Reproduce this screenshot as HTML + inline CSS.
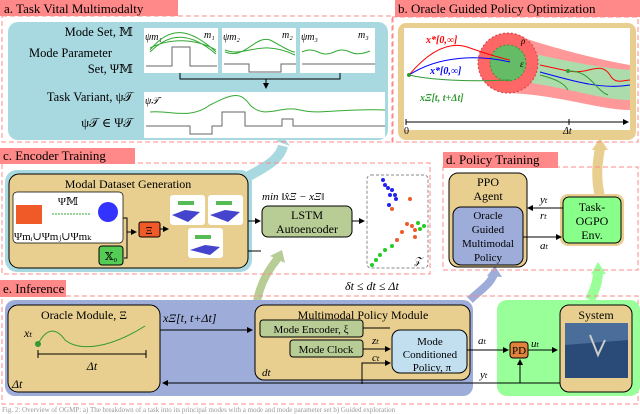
<!DOCTYPE html>
<html><head><meta charset="utf-8"><style>
body{margin:0;background:#fff}
svg{display:block;font-family:"Liberation Serif","DejaVu Serif",serif}
</style></head><body>
<svg width="640" height="414" viewBox="0 0 640 414" xmlns="http://www.w3.org/2000/svg" font-family="Liberation Serif, DejaVu Serif, serif">
<defs>
<marker id="ar" markerWidth="6" markerHeight="6" refX="5" refY="3" orient="auto"><path d="M0,0 L6,3 L0,6 z" fill="#000"/></marker>
</defs>
<path d="M245,178 C270,165 280,158 283,146" stroke="#a8d8e0" stroke-width="10" fill="none"/>
<path d="M276,141 L284,138 L290,146 z" fill="#a8d8e0"/>
<path d="M255,325 C255,300 260,280 278,258" stroke="#b8cc95" stroke-width="8" fill="none"/>
<path d="M270,256 L282,250 L285,263 z" fill="#b8cc95"/>
<path d="M470,300 C480,290 490,285 494,274" stroke="#9dacd9" stroke-width="8" fill="none"/>
<path d="M487,276 L495,266 L502,277 z" fill="#9dacd9"/>
<path d="M590,300 C595,290 598,280 598,272" stroke="#9f9" stroke-width="10" fill="none"/>
<path d="M591,274 L598,262 L606,274 z" fill="#9f9"/>
<path d="M600,197 C595,175 598,160 600,148" stroke="#e8cf8f" stroke-width="10" fill="none"/>
<path d="M592,150 L600,138 L608,150 z" fill="#e8cf8f"/>

<rect x="2" y="16" width="391" height="126" fill="none" stroke="#f88" stroke-dasharray="5,3"/>
<rect x="0" y="0" width="178" height="16" fill="#f88"/>
<text x="4" y="13" font-size="13">a. Task Vital Multimodalty</text>
<rect x="8" y="22" width="380" height="118" rx="10" fill="#a8d8e0"/>
<g font-size="12.5" text-anchor="end">
<text x="133" y="36">Mode Set, 𝕄</text>
<text x="112" y="57">Mode Parameter</text>
<text x="133" y="73">Set, Ψ𝕄</text>
<text x="133" y="101">Task Variant, ψ𝒯</text>
<text x="133" y="127">ψ𝒯 ∈ Ψ𝒯</text>
</g>
<g font-size="10" font-style="italic">
<rect x="144" y="28" width="74" height="45" fill="#fff"/><text x="145" y="40">ψm₁</text><text x="204" y="38">m₁</text>
<path d="M146,66 H172 V47 H190 V66 H217" stroke="#666" fill="none"/>
<path d="M150,50 C170,25 190,28 216,52 M150,52 C170,32 190,32 216,54 M150,48 C170,38 195,38 216,50" stroke="#3a3" fill="none"/>
<rect x="222" y="28" width="74" height="45" fill="#fff"/><text x="223" y="40">ψm₂</text><text x="282" y="38">m₂</text>
<path d="M224,64 H249 V72 H281 V64 H296" stroke="#666" fill="none"/>
<path d="M225,52 C245,60 255,35 270,40 C280,45 290,52 295,52 M225,50 C245,58 260,38 295,55" stroke="#3a3" fill="none"/>
<rect x="300" y="28" width="75" height="45" fill="#fff"/><text x="301" y="40">ψm₃</text><text x="358" y="38">m₃</text>
<path d="M302,52 Q310,48 318,52 T334,52 T350,52 T370,51" stroke="#3a3" fill="none"/>
<path d="M302,64 H375" stroke="#666" fill="none"/>
<path d="M180,73 V79 H340 V73" stroke="#000" fill="none"/>
<path d="M266,79 V88" stroke="#000" marker-end="url(#ar)"/>
<rect x="144" y="92" width="241" height="46" fill="#fff"/><text x="145" y="104">ψ𝒯</text>
<path d="M146,126 H190 V134 H212 V126 H222 V112 H245 V126 H272 V126 H282 V119 H293 V126 H385" stroke="#666" fill="none"/>
<path d="M150,112 C170,110 190,120 210,105 C230,95 240,90 250,105 C265,120 280,105 300,110 C320,115 340,108 385,110" stroke="#3a3" fill="none"/>
</g>

<rect x="392" y="17" width="246" height="125" fill="none" stroke="#f88" stroke-dasharray="5,3"/>
<rect x="395" y="0" width="245" height="17" fill="#f88"/>
<text x="398" y="13" font-size="13">b. Oracle Guided Policy Optimization</text>
<rect x="398" y="23" width="238" height="117" rx="8" fill="#e8cf8f"/>
<rect x="404" y="28" width="226" height="102" fill="#fff"/>
<path d="M508,33 C560,50 600,60 630,65 V110 C600,110 560,95 508,93 z" fill="#f99"/>
<path d="M508,48 C560,60 600,68 630,70 V100 C600,100 560,85 508,80 z" fill="#acdcac"/>
<circle cx="508" cy="63" r="30" fill="#f66" stroke="#c44" stroke-dasharray="2,2"/>
<circle cx="508" cy="63" r="18" fill="#6b6" stroke="#393" stroke-dasharray="2,2"/>
<path d="M409,75 C430,50 450,40 470,48 C490,55 500,58 510,60" stroke="red" fill="none"/>
<path d="M409,75 C440,55 480,55 510,62" stroke="blue" fill="none"/>
<path d="M409,75 C430,80 470,82 510,80" stroke="#393" fill="none"/>
<path d="M540,65 L568,71 C590,75 600,60 610,75 C615,85 625,80 630,80" stroke="red" fill="none"/>
<path d="M540,72 C570,80 600,90 630,85" stroke="blue" fill="none"/>
<path d="M568,71 C590,70 595,90 608,95 M540,75 C560,80 565,85 568,90" stroke="#393" fill="none"/>
<circle cx="409" cy="75" r="2" fill="#393"/><circle cx="568" cy="71" r="2" fill="#393"/>
<g font-size="10" font-weight="bold" font-style="italic">
<text x="426" y="43" fill="red">x*[0,∞]</text>
<text x="430" y="74" fill="blue">x*[0,∞]</text>
<text x="420" y="101" fill="#393">xΞ[t, t+Δt]</text></g>
<text x="520" y="67" font-size="9" font-style="italic">ε</text><text x="521" y="44" font-size="9" font-style="italic">ρ</text>
<path d="M406,122 H628" stroke="#000" marker-end="url(#ar)"/>
<path d="M406,119 V125 M569,119 V125" stroke="#000"/>
<text x="404" y="134" font-size="10">0</text><text x="563" y="134" font-size="10" font-style="italic">Δt</text>

<rect x="2" y="163" width="428" height="111" fill="none" stroke="#f88" stroke-dasharray="5,3"/>
<rect x="0" y="148" width="135" height="16" fill="#f88"/>
<text x="3" y="160" font-size="13">c. Encoder Training</text>
<rect x="5" y="170" width="247" height="102" rx="12" fill="#a8d8e0"/>
<rect x="9" y="174" width="239" height="94" rx="10" fill="#e8cf8f" stroke="#000"/>
<text x="128" y="188" font-size="12" text-anchor="middle">Modal Dataset Generation</text>
<rect x="13" y="192" width="110" height="51" rx="4" fill="#fff" stroke="#000" stroke-width=".7"/>
<rect x="16" y="205" width="26" height="19" fill="#f05a28"/>
<line x1="52" y1="214" x2="90" y2="214" stroke="#3a3" stroke-dasharray="2,1"/>
<circle cx="108" cy="212" r="10" fill="#33f"/>
<text x="68" y="205" font-size="11" text-anchor="middle">Ψ𝕄</text>
<text x="14" y="240" font-size="11">Ψmᵢ∪Ψmⱼ∪Ψmₖ</text>
<path d="M123,218 H127 V232 M124,258 H127 V232 H136" stroke="#000" fill="none" marker-end="url(#ar)"/>
<rect x="99" y="246" width="24" height="19" rx="3" fill="#5c5" stroke="#000"/><text x="111" y="260" font-size="11" text-anchor="middle">𝕏₀</text>
<rect x="139" y="222" width="21" height="15" rx="2" fill="#f05a28" stroke="#000"/><text x="149" y="234" font-size="11" text-anchor="middle">Ξ</text>
<path d="M160,229 H168" stroke="#000" marker-end="url(#ar)"/>
<rect x="170" y="195" width="35" height="30" rx="3" fill="#fff"/><rect x="208" y="195" width="35" height="30" rx="3" fill="#fff"/><rect x="188" y="228" width="35" height="30" rx="3" fill="#fff"/>
<path d="M172,215 L185,210 L200,212 L188,222 z M210,215 L225,210 L240,212 L228,222 z M190,250 L205,245 L220,247 L210,255 z" fill="#44c"/>
<path d="M178,203 h16 M216,203 h16 M195,237 h16" stroke="#5b5" stroke-width="4"/>
<path d="M248,248 V251 H261" stroke="#000" fill="none"/>
<path d="M248,221 H260" stroke="#000" marker-end="url(#ar)"/>
<text x="262" y="200" font-size="11" font-style="italic">min ‖x̂Ξ − xΞ‖</text>
<rect x="262" y="206" width="90" height="31" rx="6" fill="#b8cc95" stroke="#000"/>
<text x="307" y="219" font-size="12" text-anchor="middle">LSTM</text><text x="307" y="233" font-size="12" text-anchor="middle">Autoencoder</text>
<path d="M352,221 H364" stroke="#000" marker-end="url(#ar)"/>
<rect x="367" y="175" width="61" height="93" rx="4" fill="#fff" stroke="#888" stroke-dasharray="3,2"/>
<g fill="#22e"><circle cx="383" cy="180" r="2"/><circle cx="385" cy="185" r="2"/><circle cx="388" cy="188" r="2"/><circle cx="392" cy="190" r="2"/><circle cx="395" cy="195" r="2"/><circle cx="390" cy="195" r="2"/><circle cx="396" cy="199" r="2"/><circle cx="389" cy="205" r="2"/></g>
<g fill="#f05a28"><circle cx="410" cy="199" r="2"/><circle cx="392" cy="209" r="2"/><circle cx="407" cy="224" r="2"/><circle cx="412" cy="226" r="2"/><circle cx="415" cy="230" r="2"/><circle cx="415" cy="237" r="2"/><circle cx="402" cy="232" r="2"/><circle cx="397" cy="240" r="2"/></g>
<g fill="#2c2"><circle cx="418" cy="223" r="2"/><circle cx="424" cy="226" r="2"/><circle cx="420" cy="229" r="2"/><circle cx="392" cy="246" r="2"/><circle cx="385" cy="250" r="2"/><circle cx="380" cy="255" r="2"/><circle cx="376" cy="260" r="2"/><circle cx="372" cy="265" r="2"/></g>
<text x="414" y="264" font-size="10" font-style="italic">𝒵</text>

<rect x="443" y="167" width="195" height="103" fill="none" stroke="#f88" stroke-dasharray="5,3"/>
<rect x="443" y="152" width="115" height="16" fill="#f88"/>
<text x="446" y="164" font-size="13">d. Policy Training</text>
<rect x="449" y="173" width="78" height="94" rx="9" fill="#e8cf8f" stroke="#000"/>
<text x="488" y="186" font-size="12" text-anchor="middle">PPO</text><text x="488" y="200" font-size="12" text-anchor="middle">Agent</text>
<rect x="453" y="207" width="70" height="58" rx="8" fill="#9dacd9" stroke="#000"/>
<g font-size="11" text-anchor="middle"><text x="488" y="219">Oracle</text><text x="488" y="233">Guided</text><text x="488" y="247">Multimodal</text><text x="488" y="261">Policy</text></g>
<rect x="560" y="194" width="64" height="52" rx="8" fill="#e8cf8f"/>
<rect x="563" y="197" width="58" height="46" rx="6" fill="#8f8" stroke="#000"/>
<g font-size="12" text-anchor="middle"><text x="592" y="211">Task-</text><text x="592" y="225">OGPO</text><text x="592" y="239">Env.</text></g>
<path d="M563,208 H528" stroke="#000" marker-end="url(#ar)"/>
<path d="M523,237 H561" stroke="#000" marker-end="url(#ar)"/>
<g font-size="11" font-style="italic"><text x="540" y="203">yₜ</text><text x="540" y="219">rₜ</text><text x="540" y="249">aₜ</text></g>

<text x="345" y="290" font-size="12" font-style="italic">δt ≤ dt ≤ Δt</text>
<rect x="2" y="296" width="636" height="108" fill="none" stroke="#f88" stroke-dasharray="5,3"/>
<rect x="0" y="280" width="66" height="17" fill="#f88"/>
<text x="3" y="293" font-size="13">e. Inference</text>
<rect x="5" y="300" width="468" height="96" rx="10" fill="#9dacd9"/>
<rect x="497" y="300" width="143" height="96" rx="10" fill="#9f9"/>
<rect x="8" y="305" width="152" height="87" rx="10" fill="#e8cf8f" stroke="#000"/>
<text x="84" y="319" font-size="12" text-anchor="middle">Oracle Module, Ξ</text>
<path d="M38,344 C48,325 58,330 65,340 C80,352 110,348 145,326" stroke="#393" fill="none"/>
<circle cx="38" cy="344" r="3" fill="#393"/>
<text x="24" y="337" font-size="12" font-style="italic">xₜ</text>
<path d="M38,354 H146 M38,350 V358 M146,350 V358" stroke="#000"/>
<text x="92" y="370" font-size="12" text-anchor="middle" font-style="italic">Δt</text>
<text x="12" y="388" font-size="12" font-style="italic">Δt</text>
<text x="163" y="322" font-size="12" font-style="italic">xΞ[t, t+Δt]</text>
<path d="M160,330 H252" stroke="#000" marker-end="url(#ar)"/>
<rect x="255" y="305" width="215" height="75" rx="9" fill="#e8cf8f" stroke="#000"/>
<text x="363" y="319" font-size="12" text-anchor="middle">Multimodal Policy Module</text>
<rect x="260" y="320" width="103" height="17" rx="3" fill="#b8cc95" stroke="#000"/><text x="311" y="333" font-size="11" text-anchor="middle">Mode Encoder, ξ</text>
<rect x="290" y="340" width="73" height="17" rx="3" fill="#b8cc95" stroke="#000"/><text x="326" y="353" font-size="11" text-anchor="middle">Mode Clock</text>
<rect x="392" y="330" width="75" height="43" rx="8" fill="#c2dff0" stroke="#000"/>
<g font-size="11" text-anchor="middle"><text x="430" y="345">Mode</text><text x="430" y="358">Conditioned</text><text x="432" y="371">Policy, π</text></g>
<path d="M363,328 H390 M363,349 H390" stroke="#000" marker-end="url(#ar)"/>
<path d="M362,384 V363 H390" stroke="#000" fill="none" marker-end="url(#ar)"/>
<g font-size="11" font-style="italic"><text x="372" y="344">zₜ</text><text x="372" y="361">cₜ</text><text x="262" y="376">dt</text><text x="478" y="344">aₜ</text><text x="480" y="378">yₜ</text><text x="531" y="347">uₜ</text><text x="563" y="388">δt</text></g>
<path d="M467,350 H508" stroke="#000" marker-end="url(#ar)"/>
<rect x="510" y="342" width="18" height="16" rx="3" fill="#e0823c" stroke="#000"/><text x="519" y="354" font-size="11" text-anchor="middle">PD</text>
<path d="M528,350 H557" stroke="#000" marker-end="url(#ar)"/>
<path d="M520,383 V360" stroke="#000" marker-end="url(#ar)"/>
<path d="M560,383 H163" stroke="#000" marker-end="url(#ar)"/>
<rect x="560" y="305" width="72" height="87" rx="9" fill="#e8cf8f" stroke="#000"/>
<text x="596" y="319" font-size="12" text-anchor="middle">System</text>
<rect x="565" y="323" width="63" height="55" fill="#4a6d9a"/>
<path d="M565,345 L628,340 L628,378 L565,378 z" fill="#2a4a78"/>
<path d="M590,335 L598,355 L605,340" stroke="#ccc" stroke-width="2" fill="none"/>
<text x="2" y="412" font-size="7" fill="#999">Fig. 2: Overview of OGMP: a) The breakdown of a task into its principal modes with a mode and mode parameter set b) Guided exploration</text>
</svg>
</body></html>
